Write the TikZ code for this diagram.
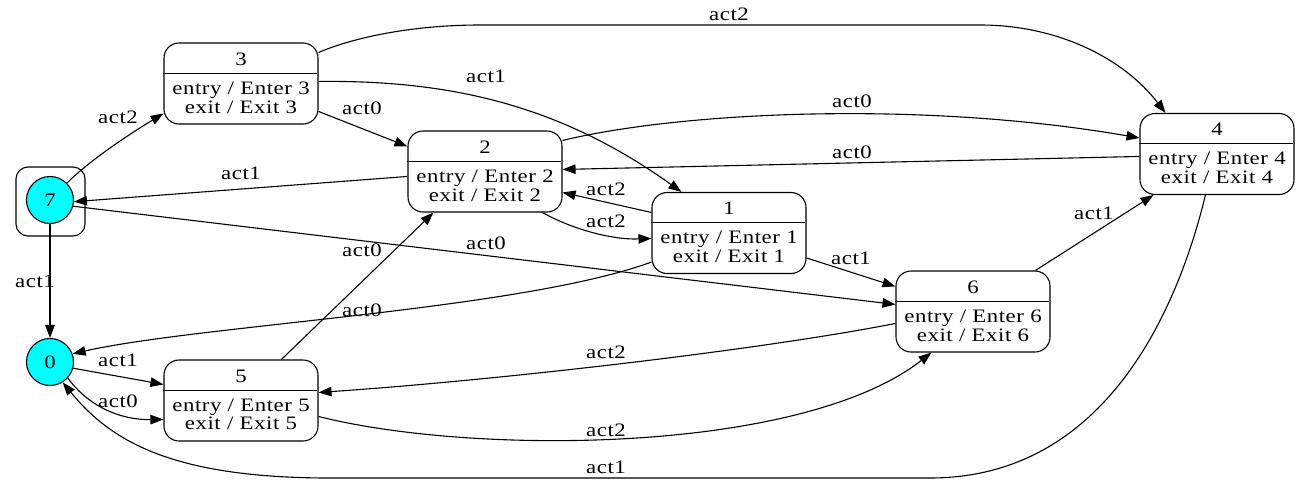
\documentclass[tikz,border=0pt]{standalone}
\usepackage{fontspec}
\setmainfont[FakeStretch=1.2,LetterSpace=3]{Liberation Serif}
\usetikzlibrary{arrows.meta,calc}

\definecolor{aqua}{RGB}{0,255,255}

% a state: rounded box with a title compartment and entry/exit actions
\newcommand\drawstate[3]{%
  \node[statebox] (#1) at (#2) {};
  \draw[line width=0.9pt] (#1.north west) ++(0,30.5) -- ++(154,0);
  \node (#1-title) at ($(#1.north)+(0,16.5)$) {#3};
  \node[align=center] (#1-body) at ($(#1.north)+(0,55)$) {entry / Enter #3\\exit / Exit #3};
}

\begin{document}
\begin{tikzpicture}[x=1pt,y=-1pt,
  every node/.style={font=\fontsize{19}{18.7}\selectfont, inner sep=0pt},
  statebox/.style={draw, rounded corners=15pt, minimum width=154pt, minimum height=81pt, line width=1.1pt, fill=white},
  startstate/.style={draw, circle, fill=aqua, minimum size=47pt, line width=1.1pt},
  edge/.style={draw, line width=1.1pt, -{Triangle[length=13pt,width=9.5pt]}},
]
\useasboundingbox (0,0) rectangle (1300,485);

% states
\drawstate{s3}{241,83.5}{3}
\drawstate{s2}{485,171.5}{2}
\drawstate{s1}{729,233}{1}
\drawstate{s4}{1217,154}{4}
\drawstate{s6}{973,311.5}{6}
\drawstate{s5}{241,400.5}{5}

% initial states
\node[draw, rounded corners=12pt, minimum size=69pt, line width=1.1pt] (q7) at (50.5,201.5) {};
\node[startstate] (n7) at (50,200) {7};
\node[startstate] (n0) at (50,362) {0};

% transitions
\draw[edge] (n7.45) .. controls (91,159) and (133.7,131.5) .. ($(s3.north west)+(0,71)$);
\node (l73) at (118,117) {act2};

\draw[edge] ($(s3.north east)+(0,10)$) .. controls (360,35) and (420,25) .. (480,25) -- (980,25) .. controls (1060,25) and (1125,60) .. ($(s4.north west)+(26,0)$);
\node (l34) at (729,14) {act2};

\draw[edge] ($(s3.north east)+(0,39)$) .. controls (450,80) and (560,105) .. ($(s1.north west)+(30,0)$);
\node (l31) at (486,76) {act1};

\draw[edge] ($(s3.north east)+(0,69)$) -- ($(s2.north west)+(0,16)$);
\node (l32) at (362,108) {act0};

\draw[edge] ($(s2.north east)+(0,10)$) .. controls (680,112) and (920,100) .. ($(s4.north west)+(0,25)$);
\node (l24) at (852,101) {act0};

\draw[edge] ($(s4.north west)+(0,43.5)$) -- ($(s2.north east)+(0,39)$);
\node (l42) at (852,152) {act0};

\draw[edge] ($(s2.north west)+(0,46)$) -- (n7.-4);
\node (l27) at (241,173) {act1};

\draw[edge] ($(s1.north west)+(0,20.5)$) -- ($(s2.north east)+(0,62)$);
\node (l12) at (606,189) {act2};

\draw[edge] ($(s2.south west)+(135,0)$) .. controls (570,228) and (610,240) .. ($(s1.north west)+(0,46.5)$);
\node (l21) at (606,221) {act2};

\draw[edge] ($(s1.north east)+(0,66)$) -- ($(s6.north west)+(0,16)$);
\node (l16) at (851,258) {act1};

\draw[edge] (n7.-15) -- ($(s6.north west)+(0,34)$);
\node (l76) at (486,243) {act0};

\draw[edge] ($(s5.north west)+(118,0)$) -- ($(s2.south west)+(26,0)$);
\node (l52) at (362,250) {act0};

\draw[edge] ($(s1.south west)+(0,-12)$) .. controls (520,310) and (200,325) .. (n0.20);
\node (l10) at (362,310) {act0};

\draw[edge] ($(s6.north west)+(140,0)$) -- ($(s4.south west)+(14,0)$);
\node (l64) at (1094,213) {act1};

\draw[edge] ($(s6.north west)+(0,53)$) .. controls (760,350) and (500,380) .. ($(s5.north east)+(0,33)$);
\node (l65) at (606,352) {act2};

\draw[edge] ($(s5.north east)+(0,57)$) .. controls (470,455) and (800,455) .. ($(s6.south west)+(36,0)$);
\node (l56) at (606,430) {act2};

\draw[edge] ($(s4.south west)+(66,0)$) .. controls (1175,320) and (1100,478) .. (930,478) -- (330,478) .. controls (170,478) and (110,440) .. (n0.-58);
\node (l40) at (606,467) {act1};

\draw[edge] (n7.south) -- (n0.north);
\node (l70) at (35,281) {act1};

\draw[edge] (n0.-15) -- ($(s5.north west)+(0,25)$);
\node (l05a) at (118,360) {act1};

\draw[edge] (n0.-42) .. controls (85,402) and (115,420) .. ($(s5.north west)+(0,60)$);
\node (l05b) at (118,401) {act0};
\end{tikzpicture}
\end{document}
